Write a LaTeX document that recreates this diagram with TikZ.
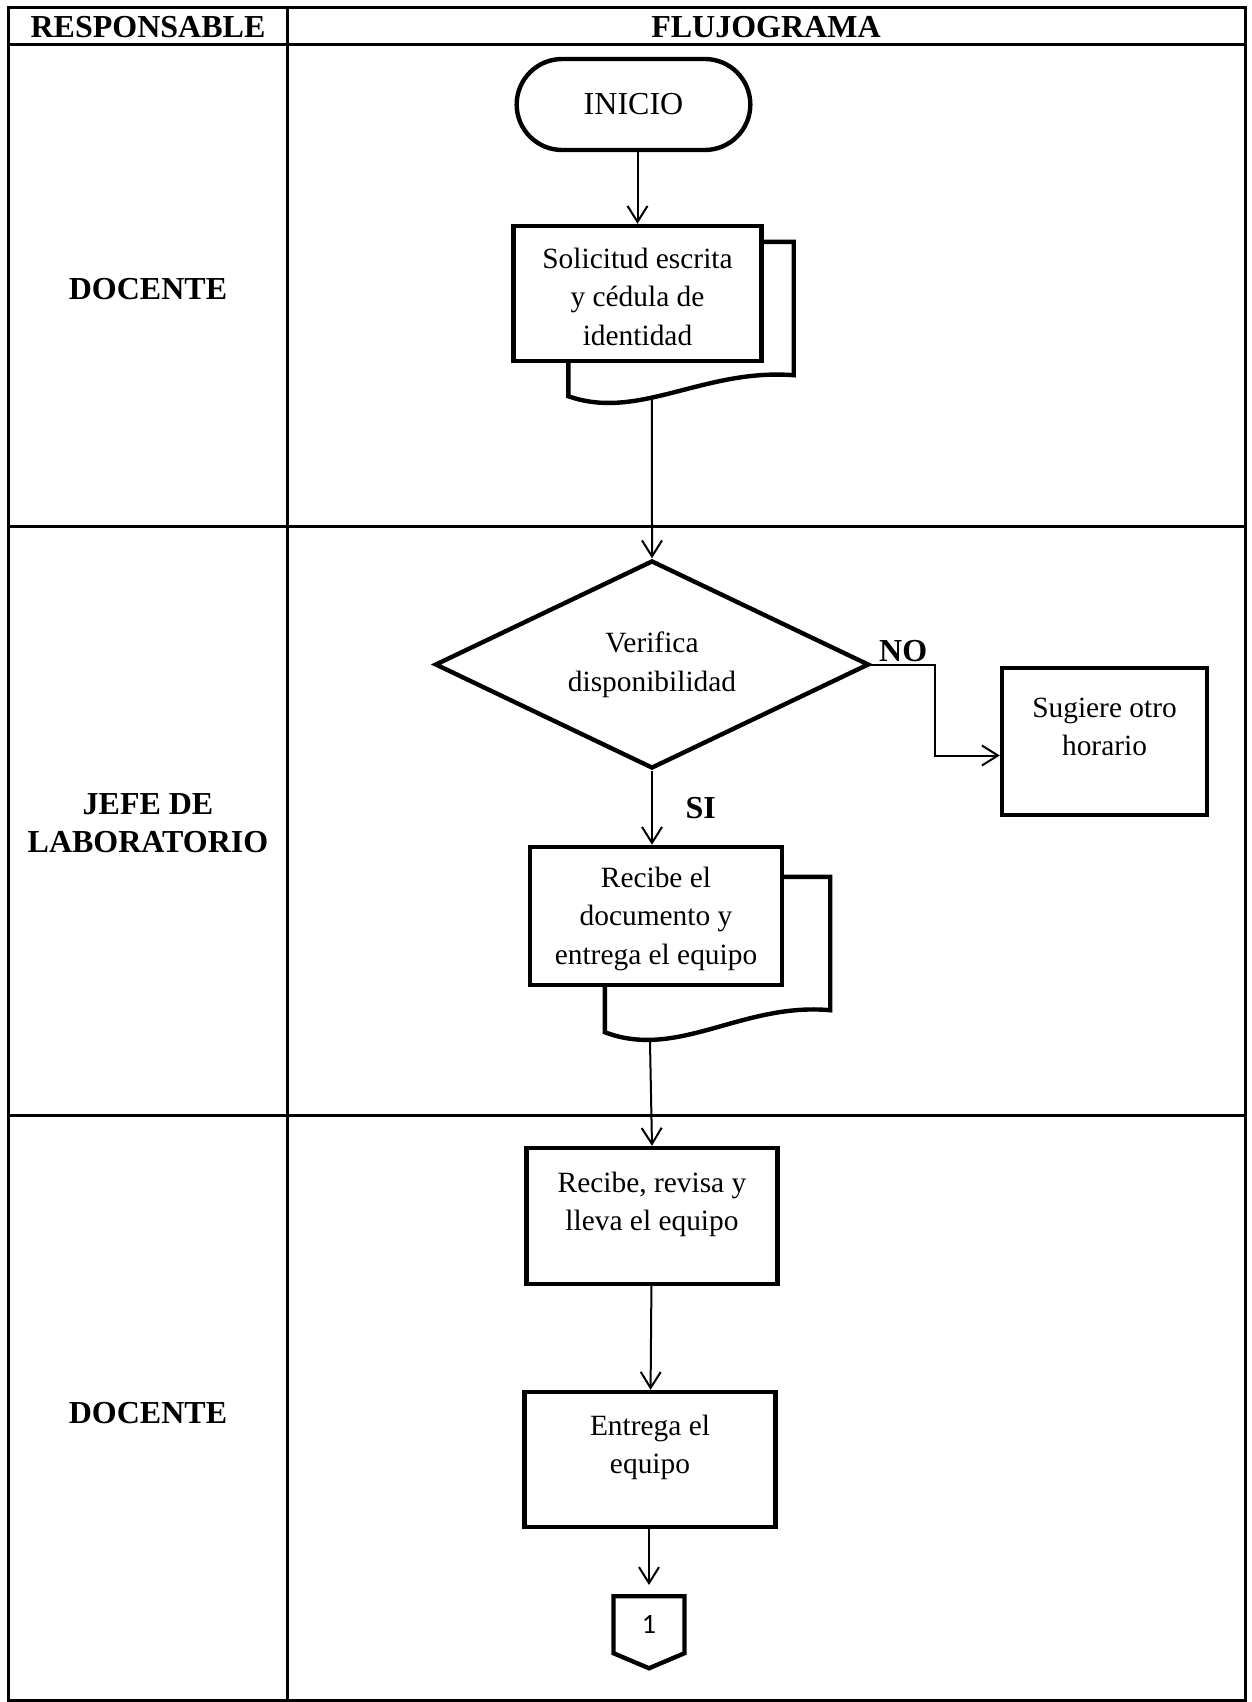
\documentclass[tikz,border=0pt]{standalone}
\usepackage{fontspec}
\setmainfont{Liberation Serif}
\newfontfamily\connfont{Carlito}
\usetikzlibrary{arrows.meta,calc,positioning,shapes.geometric,shapes.misc,shapes.symbols}

\begin{document}
\begin{tikzpicture}[x=0.5pt, y=-0.5pt, >={Straight Barb[length=8pt,width=10pt]},
  tbl/.style={line width=1.5pt},
  lane/.style={font=\fontsize{16}{19}\selectfont\bfseries, align=center},
  flow/.style={line width=1pt, ->},
  terminal/.style={rounded rectangle, draw, line width=2.2pt, minimum width=123.5pt,
    minimum height=45.5pt, font=\fontsize{16}{19}\selectfont},
  procbox/.style n args={3}{draw, line width=2.2pt, inner sep=0pt,
    font=\fontsize{14.7}{19.2}\selectfont,
    execute at begin node={\begin{minipage}[c][#2][t]{#1}\centering\vspace{#3}},
    execute at end node={\end{minipage}}},
  decision/.style={diamond, draw, line width=2.2pt, aspect=2.1, minimum width=217pt,
    minimum height=104pt, inner sep=0pt, align=center,
    font=\fontsize{14.7}{19.5}\selectfont},
  offpage/.style={signal, signal to=south, signal pointer angle=134, draw,
    line width=2.2pt, minimum width=35.5pt, minimum height=30pt, inner sep=0pt,
    font=\connfont\fontsize{14}{16}\selectfont}]
  \useasboundingbox (0,0) rectangle (1252,1702);

  % table
  \draw[tbl] (8,8) rectangle (1245,1700);
  \draw[tbl] (287,8) -- (287,1700);
  \draw[tbl] (8,45) -- (1245,45);
  \draw[tbl] (8,526) -- (1245,526);
  \draw[tbl] (8,1115) -- (1245,1115);

  \node[lane] (hres) at (148,27) {RESPONSABLE};
  \node[lane] (hflu) at (766,27) {FLUJOGRAMA};
  \node[lane] (doc1) at (148,289) {DOCENTE};
  \node[lane] (jefe) at (148,823) {JEFE DE\\LABORATORIO};
  \node[lane] (doc2) at (148,1413) {DOCENTE};

  % flujograma
  \node[terminal] (ini) at (633.5,104.5) {INICIO};
  \node[procbox={124pt}{67.5pt}{11pt}] (doca) at (637.5,293.5) {Solicitud escrita\\y cédula de\\identidad};
  \draw[line width=2.2pt] ($(doca.north east)+(0,18)$) -- ++(30,0) -- ($(doca.south east)+(30,12)$)
    .. controls ($(doca.south east)+(-60,5)$) and ($(doca.south west)+(127,58)$) .. ($(doca.south west)+(57,33)$)
    coordinate[pos=0.6] (wavea) -- ($(doca.south west)+(57,0)$);

  \node[decision] (dia) at (652,664.5) {Verifica\\disponibilidad};
  \node[procbox={102.5pt}{73.5pt}{15pt}] (sug) at (1104.5,741.5) {Sugiere otro\\horario};

  \node[procbox={126pt}{69pt}{10pt}] (docb) at (656,916) {Recibe el\\documento y\\entrega el equipo};
  \draw[line width=2.2pt] ($(docb.north east)+(0,32)$) -- ++(46,0) -- ($(docb.south east)+(46,23)$)
    .. controls ($(docb.south east)+(-42,15)$) and ($(docb.south west)+(150,73)$) .. ($(docb.south west)+(77,45)$)
    coordinate[pos=0.79] (waveb) -- ($(docb.south west)+(77,0)$);

  \node[procbox={125.5pt}{68pt}{12pt}] (rec) at (652,1216) {Recibe, revisa y\\lleva el equipo};
  \node[procbox={125.5pt}{67.5pt}{11.5pt}] (ent) at (650,1459.5) {Entrega el\\equipo};
  \node[offpage, anchor=north] (con) at (649,1594) {1};

  \draw[flow] (ini.south -| doca.north) -- (doca.north);
  \draw[flow] (wavea) -- (dia.north);
  \draw[flow] (dia.east) -- node[lane, above, inner sep=1pt] {NO} ++(64,0) |- ($(sug.west)+(0,14)$);
  \draw[flow] (dia.south) -- node[lane, right=13pt] {SI} (dia.south |- docb.north);
  \draw[flow] (waveb) -- (rec.north);
  \draw[flow] (rec) -- (ent);
  \draw[flow, shorten >=4.5pt] (ent.south -| con.north) -- (con.north);
\end{tikzpicture}
\end{document}
